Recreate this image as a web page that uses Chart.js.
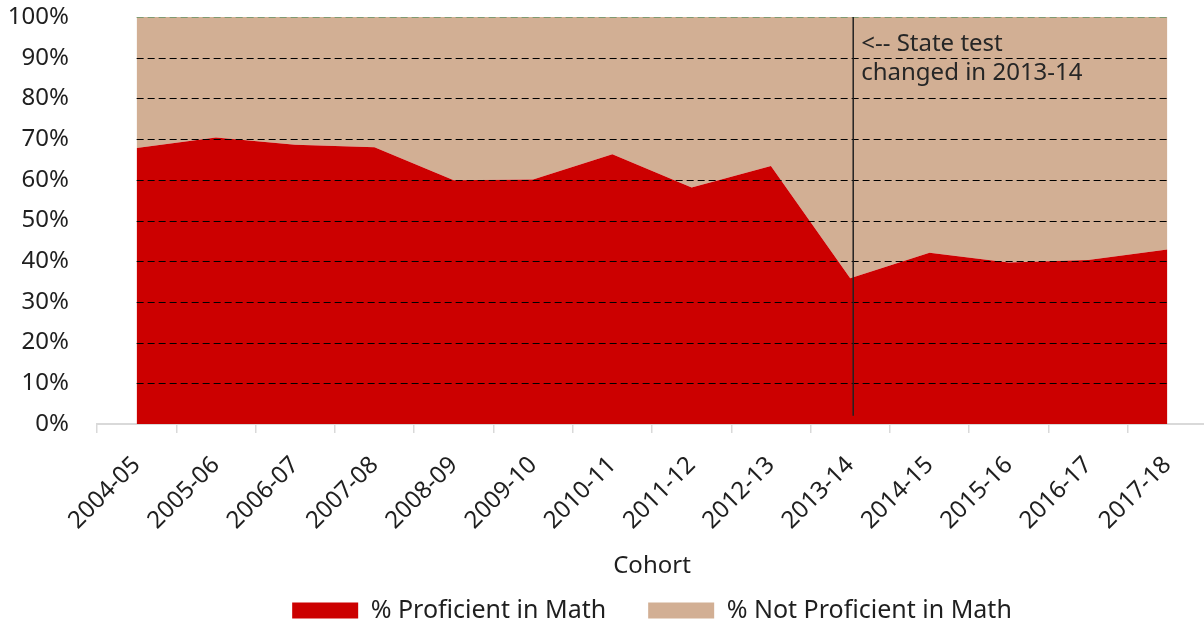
<!DOCTYPE html>
<html>
<head>
<meta charset="utf-8">
<script src="https://cdn.jsdelivr.net/npm/chart.js@4.4.0/dist/chart.umd.min.js"></script>
<style>
  html, body { margin: 0; background: #fff; overflow: hidden; }
  #wrap { width: 1207px; height: 625px; position: relative; }
</style>
</head>
<body>
<div id="wrap"><canvas id="mathChart"></canvas></div>
<script>
const cohorts = ["2004-05", "2005-06", "2006-07", "2007-08", "2008-09", "2009-10", "2010-11",
                 "2011-12", "2012-13", "2013-14", "2014-15", "2015-16", "2016-17", "2017-18"];
const proficient    = [67.8, 70.4, 68.6, 68.0, 59.9, 60.1, 66.3, 58.1, 63.4, 35.8, 42.1, 39.7, 40.3, 42.9];
const notProficient = [32.2, 29.6, 31.4, 32.0, 40.1, 39.9, 33.7, 41.9, 36.6, 64.2, 57.9, 60.3, 59.7, 57.1];
const yTicks = [0, 10, 20, 30, 40, 50, 60, 70, 80, 90, 100];
const testChangeCohort = "2013-14";
const noteLines = ["<-- State test", "changed in 2013-14"];

const textColor = "#1f1f1f";
const baseFont = { family: "'Noto Sans', 'Open Sans', sans-serif", size: 24 };

// dashed grid, test-change marker and its note, drawn over the areas
const overlay = {
  id: "overlay",
  afterDatasetsDraw(chart) {
    const { ctx, scales: { x, y } } = chart;
    const left = x.getPixelForValue(0);
    const right = x.getPixelForValue(cohorts.length - 1);
    ctx.save();
    ctx.lineWidth = 1;
    ctx.setLineDash([7, 4]);
    yTicks.forEach(t => {
      if (t === 0) return;
      let py = Math.round(y.getPixelForValue(t)) + 0.5;
      ctx.strokeStyle = t === 100 ? "#7f9a70" : "#000";
      ctx.beginPath();
      ctx.moveTo(left, py);
      ctx.lineTo(right, py);
      ctx.stroke();
    });
    ctx.setLineDash([]);

    let mx = x.getPixelForValue(cohorts.indexOf(testChangeCohort)) + 3;
    ctx.strokeStyle = "#222";
    ctx.lineWidth = 1.5;
    ctx.beginPath();
    ctx.moveTo(mx, y.getPixelForValue(100));
    ctx.lineTo(mx, y.getPixelForValue(2));
    ctx.stroke();

    ctx.fillStyle = "#262626";
    ctx.font = "24px " + baseFont.family;
    ctx.textAlign = "left";
    ctx.textBaseline = "middle";
    ctx.fillText(noteLines[0], mx + 8, y.getPixelForValue(93.3));
    ctx.fillText(noteLines[1], mx + 8, y.getPixelForValue(86.2));
    ctx.restore();
  }
};

new Chart(document.getElementById("mathChart"), {
  type: "line",
  data: {
    labels: cohorts,
    datasets: [
      {
        label: "% Proficient in Math",
        data: proficient,
        fill: "origin",
        backgroundColor: "#CC0000",
        borderColor: "#CC0000",
        borderWidth: 0,
        pointRadius: 0,
        tension: 0
      },
      {
        label: "% Not Proficient in Math",
        data: notProficient,
        fill: "-1",
        backgroundColor: "#D2AF94",
        borderColor: "#D2AF94",
        borderWidth: 0,
        pointRadius: 0,
        tension: 0
      }
    ]
  },
  options: {
    responsive: true,
    maintainAspectRatio: false,
    animation: false,
    layout: { padding: { top: 17, right: 0, bottom: -8, left: 0 } },
    scales: {
      x: {
        offset: true,
        grid: { offset: true, drawOnChartArea: false, color: "#d9d9d9", tickLength: 9, lineWidth: 1.5 },
        border: { color: "#d9d9d9", width: 2 },
        ticks: { minRotation: 45, maxRotation: 45, padding: 18, font: baseFont, color: textColor },
        title: { display: true, text: "Cohort", font: baseFont, color: textColor, padding: { top: 0, bottom: -25 } },
        afterFit(scale) {
          scale.height = 132;
          scale.paddingLeft = 0;
          scale.paddingRight = 0;
        }
      },
      y: {
        stacked: true,
        min: 0,
        max: 100,
        ticks: { stepSize: 10, padding: 28, font: baseFont, color: textColor, callback: v => v + "%" },
        grid: { display: false, drawTicks: false },
        border: { display: false },
        afterFit(scale) {
          scale.width = 97;
          scale.paddingTop = 0;
          scale.paddingBottom = 0;
        }
      }
    },
    plugins: {
      legend: {
        position: "bottom",
        fullSize: false,
        labels: { boxWidth: 66, boxHeight: 16, padding: 42, font: { family: baseFont.family, size: 25 }, color: textColor }
      },
      tooltip: { enabled: false }
    }
  },
  plugins: [overlay]
});
</script>
</body>
</html>
